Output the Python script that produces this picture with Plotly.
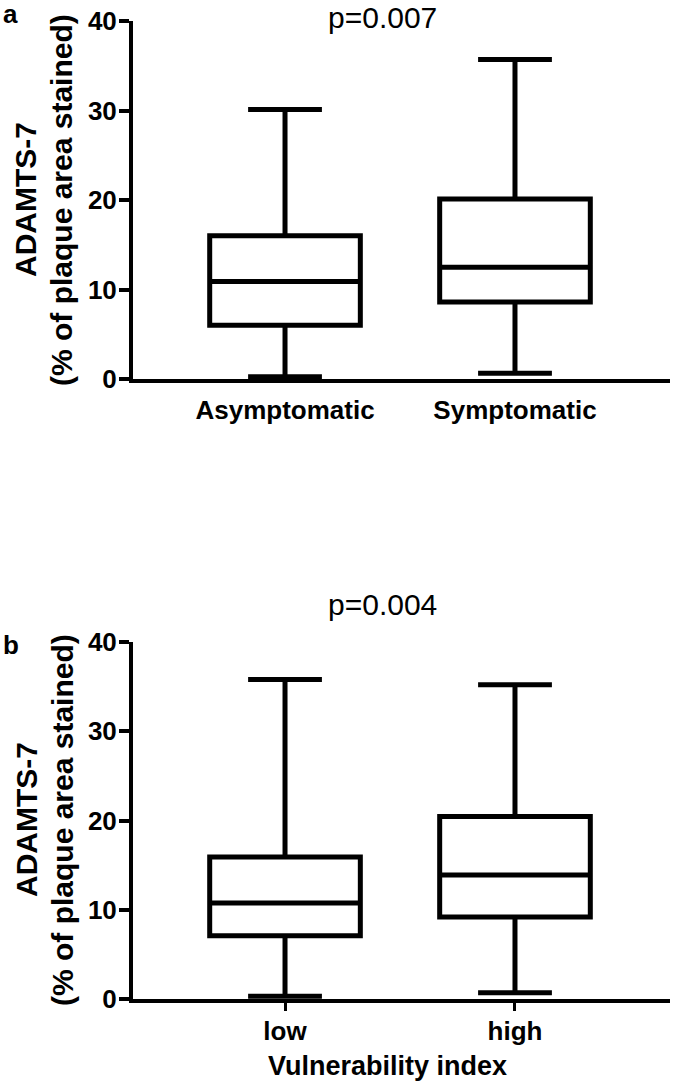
import plotly.graph_objects as go

# panel a: symptom status
GROUPS_A = ["Asymptomatic", "Symptomatic"]
A_MIN = [0.26, 0.65]
A_Q1 = [6.0, 8.6]
A_MED = [10.9, 12.5]
A_Q3 = [16.0, 20.1]
A_MAX = [30.1, 35.7]

# panel b: vulnerability index
GROUPS_B = ["low", "high"]
B_MIN = [0.3, 0.7]
B_Q1 = [7.1, 9.2]
B_MED = [10.75, 13.9]
B_Q3 = [15.9, 20.45]
B_MAX = [35.8, 35.2]

Y_TICKS = [0, 10, 20, 30, 40]
P_A = "p=0.007"
P_B = "p=0.004"
Y_TITLE_1 = "ADAMTS-7"
Y_TITLE_2 = "(% of plaque area stained)"
X_TITLE_B = "Vulnerability index"

W, H = 675, 1084
_FONT = "Liberation Sans, Arial, sans-serif"
_BOLD = dict(family=_FONT, size=26, color="black", weight="bold")


def px_x(v):
    return v / W


def px_y(v):
    return 1 - v / H


def _box(groups, lo, q1, med, q3, hi, xa, ya):
    return go.Box(
        x=groups, lowerfence=lo, q1=q1, median=med, q3=q3, upperfence=hi,
        xaxis=xa, yaxis=ya, width=0.655, whiskerwidth=0.49,
        line=dict(color="black", width=5), fillcolor="white",
        boxpoints=False, showlegend=False, hoverinfo="y",
    )


def _text(fig, txt, x, y, size, bold=True, angle=0):
    font = dict(family=_FONT, size=size, color="black")
    if bold:
        font["weight"] = "bold"
    fig.add_annotation(text=txt, x=px_x(x), y=px_y(y), xref="paper", yref="paper",
                       xanchor="center", yanchor="middle", showarrow=False,
                       textangle=angle, font=font)


fig = go.Figure()
fig.add_trace(_box(GROUPS_A, A_MIN, A_Q1, A_MED, A_Q3, A_MAX, "x", "y"))
fig.add_trace(_box(GROUPS_B, B_MIN, B_Q1, B_MED, B_Q3, B_MAX, "x2", "y2"))

x_dom = [px_x(133), px_x(670)]
x_common = dict(
    domain=x_dom, range=[-0.661, 1.674], showline=True, linecolor="black",
    linewidth=3.5, showgrid=False, zeroline=False, tickfont=_BOLD,
    automargin=False,
)
y_common = dict(
    range=[0, 40], tickvals=Y_TICKS, showline=True, linecolor="black",
    linewidth=4, showgrid=False, zeroline=False, ticks="outside",
    ticklen=10, tickwidth=3.5, tickcolor="black", tickfont=_BOLD,
    ticklabelstandoff=-3, automargin=False,
)

fig.update_layout(
    template="none",
    width=W, height=H,
    margin=dict(l=0, r=0, t=0, b=0, autoexpand=False),
    paper_bgcolor="white", plot_bgcolor="white",
    font=dict(family=_FONT, color="black"),
    xaxis=dict(**x_common, anchor="y", ticks="", ticklabelstandoff=5),
    yaxis=dict(**y_common, domain=[px_y(379), px_y(21)], anchor="x"),
    xaxis2=dict(**x_common, anchor="y2", ticks="outside", ticklen=8,
                tickwidth=3, tickcolor="black", ticklabelstandoff=-2),
    yaxis2=dict(**y_common, domain=[px_y(999), px_y(642)], anchor="x2"),
)

_text(fig, "a", 10, 14, 26)
_text(fig, "b", 11, 645, 26)
_text(fig, P_A, 382, 18, 30, bold=False)
_text(fig, P_B, 382, 604, 30, bold=False)
for yy in [200, 820]:
    _text(fig, Y_TITLE_1, 26, yy, 30, angle=-90)
    _text(fig, Y_TITLE_2, 62, yy, 30, angle=-90)
_text(fig, X_TITLE_B, 387, 1066, 27)

# drop the default page margin so the figure sits at the window corner
fig.write_html("out.html", config={"displayModeBar": False},
               post_script="document.body.style.margin='0';")
